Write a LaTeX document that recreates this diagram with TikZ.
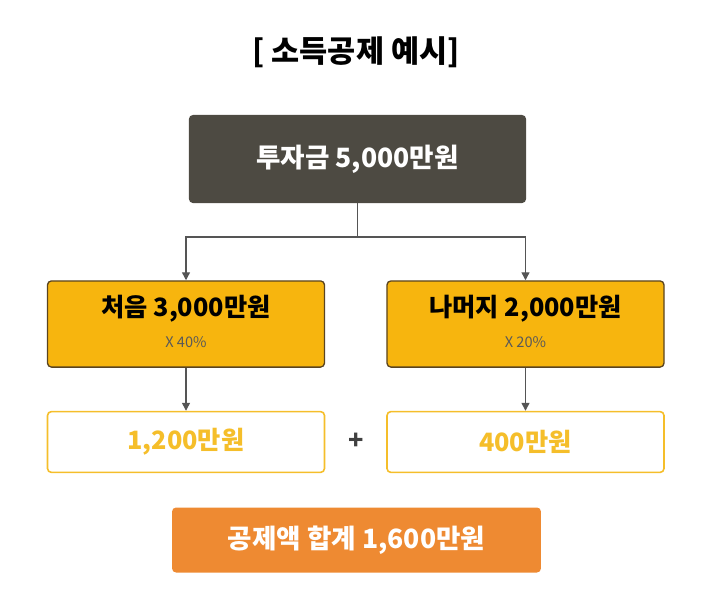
\documentclass[tikz,border=0pt]{standalone}
\usepackage{fontspec}
\setmainfont{Noto Sans CJK KR}
\usetikzlibrary{positioning,arrows.meta}
\definecolor{darkbox}{HTML}{4D4A42}
\definecolor{gold}{HTML}{F7B50E}
\definecolor{goldline}{HTML}{5A4420}
\definecolor{lightgold}{HTML}{F5BE2A}
\definecolor{sumbox}{HTML}{EE8A32}
\definecolor{linegray}{HTML}{555555}
\begin{document}
\begin{tikzpicture}[
    x=0.02646cm, y=-0.02646cm,
    box/.style={rectangle, rounded corners=3pt, inner sep=0pt},
    stepbox/.style={box, fill=gold, draw=goldline, line width=1pt, minimum width=7.33cm, minimum height=2.28cm},
    result/.style={box, fill=white, draw=lightgold, line width=1.2pt, minimum width=7.33cm, minimum height=1.61cm, text=lightgold, font=\bfseries\fontsize{19}{22}\selectfont},
    big/.style={font=\bfseries\fontsize{19}{22}\selectfont},
    rate/.style={font=\fontsize{11}{13}\selectfont, text=black!65},
    arr/.style={-{Triangle[width=6pt,length=6pt]}, linegray, line width=1pt}
]
    \useasboundingbox (0,0) rectangle (712,605);

    % Title
    \node[font=\bfseries\fontsize{23}{26}\selectfont] (title) at (356,52) {[ 소득공제 예시]};

    % Top box
    \node[box, fill=darkbox, minimum width=8.92cm, minimum height=2.33cm,
          text=white, font=\bfseries\fontsize{20}{24}\selectfont] (invest) at (357.5,159) {투자금 5,000만원};

    % Steps
    \node[stepbox] (first) at (186,324) {};
    \node[big] (firstT) at (186,309) {처음 3,000만원};
    \node[rate] (firstR) at (186,342) {X 40\%};

    \node[stepbox] (rest) at (525.5,324) {};
    \node[big] (restT) at (525.5,309) {나머지 2,000만원};
    \node[rate] (restR) at (525.5,342) {X 20\%};

    % Results
    \node[result] (res1) at (186,442) {1,200만원};
    \node[result] (res2) at (525.5,442) {400만원};
    \node[big, text=black!75] (plus) at (356,441) {+};

    % Sum
    \node[box, fill=sumbox, minimum width=9.76cm, minimum height=1.72cm,
          text=white, font=\bfseries\fontsize{20}{24}\selectfont] (sum) at (356.5,540) {공제액 합계 1,600만원};

    % Arrows
    \coordinate (split) at (357.5,237);
    \draw[linegray, line width=1pt] (invest.south) -- (split);
    \draw[arr] (split) -| (first.north);
    \draw[arr] (split) -| (rest.north);
    \draw[arr] (first.south) -- (res1.north);
    \draw[arr] (rest.south) -- (res2.north);
\end{tikzpicture}
\end{document}
